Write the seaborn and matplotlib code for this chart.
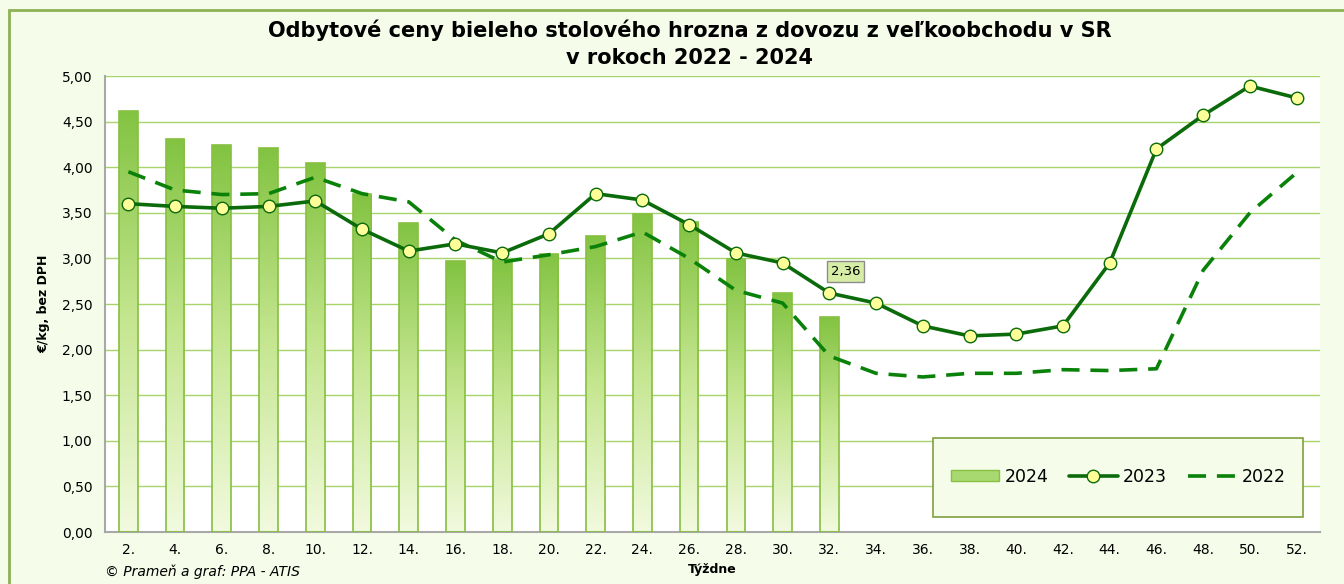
#!/usr/bin/env python3

# Odbytove ceny bieleho stoloveho hrozna, 2022 - 2024

import numpy as np
import pandas as pd
import matplotlib.pyplot as plt
import matplotlib as mpl
from matplotlib.colors import LinearSegmentedColormap
from matplotlib.patches import Rectangle
from matplotlib.lines import Line2D
import seaborn as sns

WEEKS = [f"{w}." for w in range(2, 53, 2)]

Y2024 = [4.62, 4.31, 4.24, 4.21, 4.05, 3.71, 3.39, 2.97, 2.98, 3.05,
         3.25, 3.49, 3.40, 2.99, 2.62, 2.36]

Y2023 = [3.60, 3.57, 3.55, 3.57, 3.63, 3.32, 3.08, 3.16, 3.06, 3.27,
         3.71, 3.64, 3.37, 3.06, 2.95, 2.62, 2.51, 2.26, 2.15, 2.17,
         2.26, 2.95, 4.20, 4.57, 4.89, 4.76]

Y2022 = [3.95, 3.75, 3.70, 3.71, 3.89, 3.71, 3.62, 3.20, 2.96, 3.04,
         3.13, 3.29, 3.00, 2.65, 2.51, 1.93, 1.74, 1.70, 1.74, 1.74,
         1.78, 1.77, 1.79, 2.87, 3.50, 3.94]

BG = "#F5FCE9"
DARK = "#0B6B0B"
DASH = "#0A820A"

sns.set_style("white")
plt.rcParams["font.family"] = ["DejaVu Sans"]
plt.rcParams["text.color"] = "black"
plt.rcParams["axes.labelcolor"] = "black"
plt.rcParams["xtick.color"] = "black"
plt.rcParams["ytick.color"] = "black"

df = pd.DataFrame({
    "week": WEEKS,
    "pos": np.arange(len(WEEKS)),
    "y2024": Y2024 + [np.nan] * (len(WEEKS) - len(Y2024)),
    "y2023": Y2023,
    "y2022": Y2022,
})

fig = plt.figure(figsize=(13.44, 5.84), dpi=100, facecolor=BG)
fig.patches.append(Rectangle((9 / 1344, -0.1), 1.2, 1 - 10 / 584 + 0.1,
                             transform=fig.transFigure, fill=False,
                             edgecolor="#8DB255", linewidth=2))
ax = fig.add_axes([105 / 1344, 1 - 532 / 584, 1215 / 1344, 456 / 584])
ax.set_facecolor("white")

sns.barplot(data=df, x="week", y="y2024", order=WEEKS, ax=ax, width=0.4,
            color="#8CC63F", edgecolor="#86C040", linewidth=1.2, saturation=1)

# gradient fill for bars
cmap = LinearSegmentedColormap.from_list("g", ["#F2FADF", "#C5E690", "#82C341"])
grad = np.linspace(0, 1, 256).reshape(-1, 1)
for p in list(ax.patches):
    x0, y0 = p.get_x(), p.get_y()
    w, h = p.get_width(), p.get_height()
    if not np.isfinite(h) or h <= 0:
        continue
    im = ax.imshow(grad, cmap=cmap, origin="lower", aspect="auto",
                   extent=[x0, x0 + w, y0, y0 + h], zorder=2)
    im.set_clip_path(p)
    p.set_facecolor("none")
    p.set_zorder(3)

sns.lineplot(data=df, x="pos", y="y2022", ax=ax, color=DASH, linewidth=2.6,
             zorder=4, legend=False)
ax.lines[-1].set_dashes([5, 3])
sns.lineplot(data=df, x="pos", y="y2023", ax=ax, color=DARK, linewidth=2.6,
             marker="o", markersize=9, markerfacecolor="#FFFF99",
             markeredgecolor=DARK, markeredgewidth=1.0, zorder=5, legend=False)

ax.set_xlim(-0.5, len(WEEKS) - 0.5)
ax.set_ylim(0, 5)
ax.set_yticks(np.arange(0, 5.01, 0.5))
ax.set_yticklabels([f"{v:.2f}".replace(".", ",") for v in np.arange(0, 5.01, 0.5)],
                   fontsize=10)
ax.set_xticks(range(len(WEEKS)))
ax.set_xticklabels(WEEKS, fontsize=10)
ax.set_xticks(np.arange(-0.5, len(WEEKS), 1), minor=True)
ax.tick_params(axis="x", which="major", length=0, pad=8)
ax.tick_params(axis="x", which="minor", length=5, color="#A0A0A0")
ax.tick_params(axis="y", length=5, color="#A0A0A0", pad=4)
ax.yaxis.grid(True, color="#A6D46A", linewidth=1)
ax.set_axisbelow(True)
for s in ["top", "right"]:
    ax.spines[s].set_visible(False)
for s in ["left", "bottom"]:
    ax.spines[s].set_color("#A8A8A8")
    ax.spines[s].set_linewidth(1.5)

ax.set_xlabel("Týždne", fontsize=9, fontweight="bold", labelpad=4)
ax.set_ylabel("€/kg, bez DPH", fontsize=9, fontweight="bold", labelpad=8)

fig.text(0.513, 0.948, "Odbytové ceny bieleho stolového hrozna z dovozu z veľkoobchodu v SR",
         ha="center", va="center", fontsize=15, fontweight="bold")
fig.text(0.513, 0.900, "v rokoch 2022 - 2024",
         ha="center", va="center", fontsize=15, fontweight="bold")
fig.text(105 / 1344, 1 - 572 / 584, "© Prameň a graf: PPA - ATIS",
         ha="left", va="center", fontsize=10, style="italic")

# data label for last 2024 bar
ax.annotate(f"{Y2024[-1]:.2f}".replace(".", ","), xy=(15.35, 2.86),
            ha="center", va="center", fontsize=9.5, zorder=6,
            bbox=dict(boxstyle="square,pad=0.3", fc="#D6EDA6", ec="#8C8C8C"))

# legend box
ax.add_patch(Rectangle((828 / 1215, 15 / 456), 370 / 1215, 79 / 456,
                       transform=ax.transAxes, facecolor=BG,
                       edgecolor="#7FA040", linewidth=1.2, zorder=6))
handles = [
    Rectangle((0, 0), 1, 1, facecolor="#A8D870", edgecolor="#86C040"),
    Line2D([], [], color=DARK, linewidth=2.6, marker="o", markersize=9,
           markerfacecolor="#FFFF99", markeredgecolor=DARK),
    Line2D([], [], color=DASH, linewidth=2.6, dashes=[5, 3]),
]
leg = ax.legend(handles, ["2024", "2023", "2022"], ncol=3, frameon=False,
                loc="center", bbox_to_anchor=(1013 / 1215, 55 / 456),
                fontsize=12.5, handlelength=2.8, columnspacing=1.2,
                handletextpad=0.3, handleheight=0.6)
leg.set_zorder(7)

fig.savefig("out.png", dpi=100, facecolor=BG)
